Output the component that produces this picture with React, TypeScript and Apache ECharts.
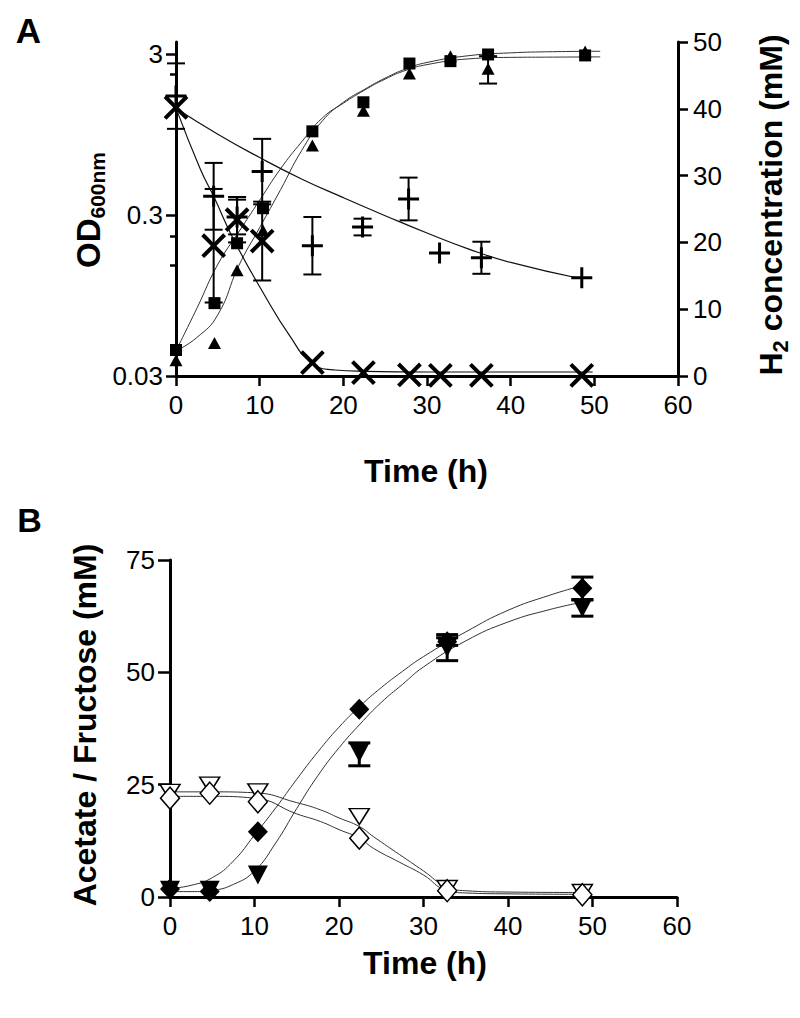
import React, { useEffect, useRef } from 'react';
import * as echarts from 'echarts';

const FONT = '"Liberation Sans", Arial, Helvetica, sans-serif';

// ---------- Panel A : OD600 (log axis, left) ----------
const timeOD = [0, 4.6, 7.3, 10.4, 16.3, 22.4, 27.9, 32.8, 37.3, 48.9];
const odSquare = [0.0435, 0.085, 0.2, 0.33, 0.99, 1.5, 2.61, 2.7, 2.97, 2.93];
const odTriangle = [0.0376, 0.048, 0.136, 0.24, 0.81, 1.33, 2.26, 2.9, 2.42, 3.1];
const odTriangleErrLo = [null, null, null, null, null, null, null, null, 1.96, null];
const odTriangleErrHi = [null, null, null, null, null, null, null, null, 2.9, null];

const odTickValues = [0.03, 0.3, 3];
const odMinorTickValues = [0.147, 0.22, 2.25];

const fitODTime = [0, 2.5, 5, 7.5, 10, 12.5, 15, 17.5, 20, 22.5, 25, 27.5, 30, 35, 40, 45, 50.7];
const fitODSquare = [0.043, 0.079, 0.148, 0.235, 0.37, 0.58, 0.85, 1.2, 1.48, 1.78, 2.09, 2.37, 2.57, 2.79, 2.85, 2.86, 2.87];
const fitODTriangle = [0.043, 0.052, 0.072, 0.145, 0.25, 0.43, 0.75, 1.15, 1.5, 1.8, 2.12, 2.42, 2.65, 2.92, 3.04, 3.09, 3.11];

// ---------- Panel A : H2 concentration (mM, right) ----------
const timeH2Plus = [0, 4.5, 7.3, 10.3, 16.3, 22.3, 27.8, 31.5, 36.5, 48.5];
const h2Plus = [41.9, 26.9, 23.8, 30.6, 19.5, 22.3, 26.5, 18.4, 17.7, 14.7];
const h2PlusErr = [4.9, 5.0, 2.6, 4.9, 4.3, 1.25, 3.2, 0, 2.4, 0];

const timeH2Cross = [0, 4.5, 7.3, 10.3, 16.3, 22.4, 27.9, 31.6, 36.5, 48.5];
const h2Cross = [40.2, 19.5, 23.4, 20.2, 2.0, 0.5, 0.15, 0.1, 0.1, 0.1];
const h2CrossErr = [0, 8.5, 3.4, 5.9, 0, 0, 0, 0, 0, 0];

const fitH2PlusTime = [0, 5, 10, 15, 20, 25, 30, 35, 40, 48.3];
const fitH2Plus = [40.1, 36.2, 32.7, 29.5, 26.7, 24.0, 21.4, 19.0, 17.0, 14.6];
const fitH2CrossTime = [0, 2.9, 4.5, 6.9, 10.4, 13.6, 16.2, 19, 22.7, 30, 40, 49.8];
const fitH2Cross = [40.1, 31, 26.9, 20.4, 12.5, 6.0, 2.0, 0.9, 0.7, 0.6, 0.6, 0.6];

// ---------- Panel B : Acetate / Fructose (mM) ----------
const timeB = [0, 4.7, 10.4, 22.4, 32.8, 48.8];
const filledDiamond = [1.8, 1.2, 14.5, 41.8, 56.8, 68.7];
const filledDiamondErrLo = [null, null, null, null, 56.0, 66.2];
const filledDiamondErrHi = [null, null, null, null, 57.7, 71.2];
const filledTriangle = [1.5, 1.5, 4.9, 32.1, 55.5, 64.3];
const filledTriangleErrLo = [null, null, null, 29.2, 52.6, 62.5];
const filledTriangleErrHi = [null, null, null, 34.3, 58.4, 66.1];
const openTriangle = [23.3, 24.9, 23.4, 17.9, 1.9, 1.0];
const openDiamond = [22.0, 23.1, 21.2, 13.1, 1.4, 0.5];

const fitBTime = [0, 2.5, 5, 7.5, 10, 12.5, 15, 17.5, 20, 22.5, 25, 27.5, 30, 35, 40, 45, 48.8];
const fitFilledDiamond = [1.9, 2.6, 4.3, 8.0, 13.8, 19.8, 26.2, 32.3, 37.8, 42.5, 46.6, 50.2, 53.5, 59.0, 63.8, 67.2, 69.3];
const fitFilledTriangle = [1.2, 1.2, 1.5, 2.8, 5.8, 12.0, 19.7, 27.0, 33.2, 38.5, 43.3, 47.3, 51.2, 57.0, 61.2, 64.0, 65.6];
const fitFrucTime = [0, 5, 10, 15, 17.8, 20, 22.4, 24.1, 27.2, 30, 32.7, 35, 40, 48.8];
const fitOpenTriangle = [23.4, 23.4, 23.2, 21.0, 19.4, 17.6, 15.7, 13.4, 9.4, 5.8, 2.3, 1.4, 1.1, 1.0];
const fitOpenDiamond = [22.4, 22.4, 22.0, 18.5, 16.8, 15.0, 13.1, 10.8, 7.7, 4.9, 1.5, 0.9, 0.7, 0.6];

const PLUS_PATH = 'path://M9,0H12V9H21V12H12V21H9V12H0V9H9Z';
const CROSS_PATH = 'path://M13.5,0H17.5V13.5H31V17.5H17.5V31H13.5V17.5H0V13.5H13.5Z';

const pairs = (xs: number[], ys: number[]) => xs.map((x, i) => [x, ys[i]]);
const symErrRows = (xs: number[], ys: number[], es: number[]) =>
  xs.map((x, i) => [x, ys[i] - es[i], ys[i] + es[i]]).filter((_, i) => es[i] > 0);
const loHiRows = (xs: number[], lo: (number | null)[], hi: (number | null)[]) =>
  xs.map((x, i) => [x, lo[i], hi[i]]).filter((r) => r[1] != null && r[2] != null);

function errorSeries(xAxisIndex: number, yAxisIndex: number, rows: any[], capHalf: number, lw: number) {
  return {
    type: 'custom',
    xAxisIndex,
    yAxisIndex,
    z: 3,
    silent: true,
    data: rows,
    renderItem: (params: any, api: any) => {
      const x = api.value(0);
      const p1 = api.coord([x, api.value(1)]);
      const p2 = api.coord([x, api.value(2)]);
      const style = { stroke: '#000', lineWidth: lw };
      return {
        type: 'group',
        children: [
          { type: 'line', shape: { x1: p1[0], y1: p1[1], x2: p2[0], y2: p2[1] }, style },
          { type: 'line', shape: { x1: p1[0] - capHalf, y1: p1[1], x2: p1[0] + capHalf, y2: p1[1] }, style },
          { type: 'line', shape: { x1: p2[0] - capHalf, y1: p2[1], x2: p2[0] + capHalf, y2: p2[1] }, style },
        ],
      };
    },
  };
}

function fitSeries(xAxisIndex: number, yAxisIndex: number, xs: number[], ys: number[], color = '#333', width = 1) {
  return {
    type: 'line',
    xAxisIndex,
    yAxisIndex,
    data: pairs(xs, ys),
    smooth: 0.5,
    showSymbol: false,
    symbol: 'none',
    silent: true,
    z: 2,
    lineStyle: { color, width },
  };
}

function scatterSeries(xAxisIndex: number, yAxisIndex: number, xs: number[], ys: number[], symbol: string, size: any, opts: any = {}) {
  return {
    type: 'scatter',
    xAxisIndex,
    yAxisIndex,
    data: pairs(xs, ys),
    symbol,
    symbolSize: size,
    symbolRotate: opts.rotate || 0,
    silent: true,
    z: 4,
    itemStyle: { opacity: 1, ...(opts.itemStyle || { color: '#000' }) },
  };
}

const axisLineStyle = { show: true, onZero: false, lineStyle: { color: '#000', width: 3 } };
const tickStyle = { show: true, inside: false, length: 10, lineStyle: { color: '#000', width: 2.5 } };
const labelStyle = { color: '#000', fontSize: 26, fontFamily: FONT };

function xAxis(gridIndex: number) {
  return {
    type: 'value',
    gridIndex,
    min: 0,
    max: 60,
    interval: 10,
    axisLine: axisLineStyle,
    axisTick: tickStyle,
    axisLabel: { ...labelStyle, margin: 16 },
    splitLine: { show: false },
  };
}

export default function App() {
  const ref = useRef<HTMLDivElement>(null);
  useEffect(() => {
    if (!ref.current) return;
    const chart = echarts.init(ref.current, undefined, { renderer: 'svg' });
    const option: any = {
      animation: false,
      backgroundColor: '#fff',
      grid: [
        { left: 176, top: 42, right: 122, height: 334 },
        { left: 170, top: 560, right: 123, height: 337 },
      ],
      xAxis: [xAxis(0), xAxis(1)],
      yAxis: [
        {
          type: 'log',
          logBase: 10,
          gridIndex: 0,
          position: 'left',
          min: 0.03,
          max: 3.55,
          axisLine: axisLineStyle,
          axisTick: { ...tickStyle, customValues: odTickValues },
          axisLabel: {
            ...labelStyle,
            margin: 13,
            customValues: odTickValues,
            formatter: (v: number) => String(+Number(v).toPrecision(2)),
          },
          splitLine: { show: false },
          minorTick: { show: false },
        },
        {
          type: 'log',
          logBase: 10,
          gridIndex: 0,
          position: 'left',
          min: 0.03,
          max: 3.55,
          axisLine: { show: false },
          axisTick: { show: true, inside: false, length: 6, lineStyle: { color: '#000', width: 2.5 }, customValues: odMinorTickValues },
          axisLabel: { show: false },
          splitLine: { show: false },
        },
        {
          type: 'value',
          gridIndex: 0,
          position: 'right',
          min: 0,
          max: 50,
          interval: 10,
          axisLine: axisLineStyle,
          axisTick: tickStyle,
          axisLabel: { ...labelStyle, margin: 15 },
          splitLine: { show: false },
        },
        {
          type: 'value',
          gridIndex: 1,
          position: 'left',
          min: 0,
          max: 75,
          interval: 25,
          axisLine: axisLineStyle,
          axisTick: { ...tickStyle, length: 12 },
          axisLabel: { ...labelStyle, margin: 15 },
          splitLine: { show: false },
        },
      ],
      series: [
        // Panel A fits
        fitSeries(0, 0, fitODTime, fitODSquare),
        fitSeries(0, 0, fitODTime, fitODTriangle),
        fitSeries(0, 2, fitH2PlusTime, fitH2Plus, '#111', 1.2),
        fitSeries(0, 2, fitH2CrossTime, fitH2Cross, '#111', 1.2),
        // Panel A error bars
        errorSeries(0, 0, loHiRows(timeOD, odTriangleErrLo, odTriangleErrHi), 9, 2),
        errorSeries(0, 2, symErrRows(timeH2Plus, h2Plus, h2PlusErr), 9, 2),
        errorSeries(0, 2, symErrRows(timeH2Cross, h2Cross, h2CrossErr), 9, 2),
        // Panel A markers
        scatterSeries(0, 0, timeOD, odSquare, 'rect', 12),
        scatterSeries(0, 0, timeOD, odTriangle, 'triangle', [13, 12]),
        scatterSeries(0, 2, timeH2Plus, h2Plus, PLUS_PATH, 21),
        scatterSeries(0, 2, timeH2Cross, h2Cross, CROSS_PATH, 31, { rotate: 45 }),
        // Panel B fits
        fitSeries(1, 3, fitBTime, fitFilledDiamond),
        fitSeries(1, 3, fitBTime, fitFilledTriangle),
        fitSeries(1, 3, fitFrucTime, fitOpenTriangle),
        fitSeries(1, 3, fitFrucTime, fitOpenDiamond),
        // Panel B error bars
        errorSeries(1, 3, loHiRows(timeB, filledDiamondErrLo, filledDiamondErrHi), 11, 3),
        errorSeries(1, 3, loHiRows(timeB, filledTriangleErrLo, filledTriangleErrHi), 11, 3),
        // Panel B markers
        scatterSeries(1, 3, timeB, openTriangle, 'triangle', [20, 16], {
          rotate: 180,
          itemStyle: { color: '#fff', borderColor: '#000', borderWidth: 1.5 },
        }),
        scatterSeries(1, 3, timeB, openDiamond, 'diamond', [19, 22], {
          itemStyle: { color: '#fff', borderColor: '#000', borderWidth: 1.5 },
        }),
        scatterSeries(1, 3, timeB, filledDiamond, 'diamond', [20, 21]),
        scatterSeries(1, 3, timeB, filledTriangle, 'triangle', [20, 19], { rotate: 180 }),
      ],
      graphic: [
        { type: 'text', x: 28.5, y: 30.5, style: { text: 'A', font: `bold 35px ${FONT}`, fill: '#000', align: 'center', verticalAlign: 'middle' } },
        { type: 'text', x: 29.5, y: 520, style: { text: 'B', font: `bold 34px ${FONT}`, fill: '#000', align: 'center', verticalAlign: 'middle' } },
        {
          type: 'text', x: 88, y: 210, rotation: Math.PI / 2,
          style: {
            text: '{a|OD}{b|600nm}', align: 'center', verticalAlign: 'middle', fill: '#000',
            rich: {
              a: { fontSize: 33, fontWeight: 'bold', fontFamily: FONT, lineHeight: 40, verticalAlign: 'middle' },
              b: { fontSize: 21, fontWeight: 'bold', fontFamily: FONT, lineHeight: 30, verticalAlign: 'bottom' },
            },
          },
        },
        {
          type: 'text', x: 771, y: 205, rotation: Math.PI / 2,
          style: {
            text: '{a|H}{b|2}{a| concentration (mM)}', align: 'center', verticalAlign: 'middle', fill: '#000',
            rich: {
              a: { fontSize: 32, fontWeight: 'bold', fontFamily: FONT, lineHeight: 40, verticalAlign: 'middle' },
              b: { fontSize: 22, fontWeight: 'bold', fontFamily: FONT, lineHeight: 18, verticalAlign: 'bottom' },
            },
          },
        },
        { type: 'text', x: 426, y: 471, style: { text: 'Time (h)', font: `bold 32px ${FONT}`, fill: '#000', align: 'center', verticalAlign: 'middle' } },
        { type: 'text', x: 85, y: 725, rotation: Math.PI / 2, style: { text: 'Acetate / Fructose (mM)', font: `bold 32px ${FONT}`, fill: '#000', align: 'center', verticalAlign: 'middle' } },
        { type: 'text', x: 425, y: 963, style: { text: 'Time (h)', font: `bold 32px ${FONT}`, fill: '#000', align: 'center', verticalAlign: 'middle' } },
      ],
    };
    chart.setOption(option);
    return () => chart.dispose();
  }, []);
  return <div ref={ref} style={{ position: 'absolute', left: 0, top: 0, width: 800, height: 1018, background: '#fff' }} />;
}
